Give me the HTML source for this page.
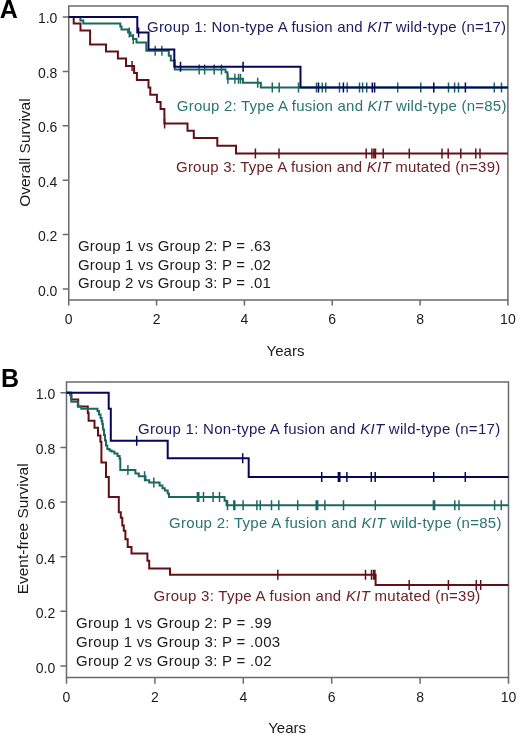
<!DOCTYPE html>
<html><head><meta charset="utf-8"><style>
html,body{margin:0;padding:0;background:#fff;}
svg{display:block;will-change:transform;}
text{font-family:"Liberation Sans",sans-serif;}
</style></head><body>
<svg width="520" height="739" viewBox="0 0 520 739">
<rect width="520" height="739" fill="#fff"/>
<path d="M68.75,6 H507.9 V299.9 H68.75 Z" fill="none" stroke="#6a6a6a" stroke-width="1.5"/>
<path d="M66.5,381.9 H508.5 V677.5 H66.5 Z" fill="none" stroke="#6a6a6a" stroke-width="1.5"/>
<path d="M62.7,17.0 H68.75 M62.7,71.4 H68.75 M62.7,125.8 H68.75 M62.7,180.2 H68.75 M62.7,234.6 H68.75 M62.7,289.0 H68.75" fill="none" stroke="#6a6a6a" stroke-width="1.5" stroke-linejoin="miter" stroke-linecap="butt"/>
<path d="M68.75,299.9 V305.6 M156.57999999999998,299.9 V305.6 M244.41,299.9 V305.6 M332.24,299.9 V305.6 M420.07,299.9 V305.6 M507.9,299.9 V305.6" fill="none" stroke="#6a6a6a" stroke-width="1.5" stroke-linejoin="miter" stroke-linecap="butt"/>
<path d="M60.4,392.8 H66.5 M60.4,447.44 H66.5 M60.4,502.08000000000004 H66.5 M60.4,556.72 H66.5 M60.4,611.36 H66.5 M60.4,666.0 H66.5" fill="none" stroke="#6a6a6a" stroke-width="1.5" stroke-linejoin="miter" stroke-linecap="butt"/>
<path d="M66.5,677.5 V683.7 M154.9,677.5 V683.7 M243.3,677.5 V683.7 M331.70000000000005,677.5 V683.7 M420.1,677.5 V683.7 M508.5,677.5 V683.7" fill="none" stroke="#6a6a6a" stroke-width="1.5" stroke-linejoin="miter" stroke-linecap="butt"/>
<path d="M68.75,17 H73.7 V23.5 H80.5 V30.6 H90.1 V44.4 H106 V51.6 H117.9 V58.6 H126 V66 H134.1 V73.1 H136.9 V80 H148.5 V87.5 H150.3 V94.8 H156.9 V101.9 H160.6 V108.9 H164.4 V123.5 H187.5 V130.8 H193.8 V137.9 H217.3 V145.8 H236 V153.5 H507.9" fill="none" stroke="#621016" stroke-width="2" stroke-linejoin="miter" stroke-linecap="butt"/>
<path d="M132.1,61 V71 M164.6,118.5 V128.5 M255.4,148.5 V158.5 M279,148.5 V158.5 M366.2,148.5 V158.5 M371.9,148.5 V158.5 M373.9,148.5 V158.5 M375.5,148.5 V158.5 M383.2,148.5 V158.5 M409.3,148.5 V158.5 M442,148.5 V158.5 M448.2,148.5 V158.5 M460.8,148.5 V158.5 M475.8,148.5 V158.5 M480,148.5 V158.5" fill="none" stroke="#621016" stroke-width="1.5" stroke-linejoin="miter" stroke-linecap="butt"/>
<path d="M68.75,17 H80.4 V20.4 H83.3 V23.4 H120.3 V26.6 H121.5 V29.4 H128.1 V32.6 H130.5 V35.8 H133 V39 H136.5 V42.4 H146.3 V50.8 H168.8 V55.7 H170.8 V60.5 H174.8 V69.5 H225.6 V72.2 H227.4 V78.8 H243 V82.8 H260.8 V87.6 H507.9" fill="none" stroke="#1b6762" stroke-width="2" stroke-linejoin="miter" stroke-linecap="butt"/>
<path d="M129.3,27.6 V37.6 M133.3,34 V44 M155.2,45.8 V55.8 M161.9,45.8 V55.8 M199.2,64.5 V74.5 M204.6,64.5 V74.5 M214.2,64.5 V74.5 M221.5,64.5 V74.5 M227.9,73.8 V83.8 M234.9,73.8 V83.8 M238.5,73.8 V83.8 M240.5,73.8 V83.8 M257.7,77.8 V87.8 M272.3,82.6 V92.6 M279.2,82.6 V92.6 M298.5,82.6 V92.6 M316.5,82.4 V92.4 M322.3,82.4 V92.4 M325.7,82.4 V92.4 M339.5,82.4 V92.4 M347.2,82.4 V92.4 M359.5,82.4 V92.4 M362.6,82.4 V92.4 M366.7,82.4 V92.4 M397.7,82.4 V92.4 M420.8,82.4 V92.4 M448.5,82.4 V92.4 M454.6,82.4 V92.4 M458.5,82.4 V92.4 M494.3,82.4 V92.4 M501.5,82.4 V92.4" fill="none" stroke="#1b6762" stroke-width="1.5" stroke-linejoin="miter" stroke-linecap="butt"/>
<path d="M68.75,17 H137.3 V32.6 H148.5 V49.4 H174.3 V66.8 H300.5 V87.4 H507.9" fill="none" stroke="#06065c" stroke-width="2" stroke-linejoin="miter" stroke-linecap="butt"/>
<path d="M138.6,27.6 V37.6 M180.5,61.8 V71.8 M243.1,61.8 V71.8 M318.5,82.4 V92.4 M343.4,82.4 V92.4 M372.3,82.4 V92.4 M374.6,82.4 V92.4 M433.8,82.4 V92.4 M465.4,82.4 V92.4" fill="none" stroke="#06065c" stroke-width="1.5" stroke-linejoin="miter" stroke-linecap="butt"/>
<path d="M66.5,392.8 H71.3 V399.5 H78.2 V406.5 H87.8 V413 H88.6 V420.8 H94.5 V427.8 H98 V435.4 H100.4 V441.7 H101.4 V462.5 H106 V476.9 H108.8 V497 H118.8 V512.3 H120.8 V517.7 H122.3 V525.4 H123.8 V530.8 H125.4 V539.2 H127.7 V546.9 H131.5 V553.6 H147.4 V560.8 H149.2 V568.4 H170 V574.7 H375.6 V585 H508.5" fill="none" stroke="#621016" stroke-width="2" stroke-linejoin="miter" stroke-linecap="butt"/>
<path d="M277.8,569.7 V579.7 M365.5,569.7 V579.7 M371.5,569.7 V579.7 M373.6,569.7 V579.7 M374.9,569.7 V579.7 M409.2,580 V590 M448.4,580 V590 M476.3,580 V590 M480.7,580 V590" fill="none" stroke="#621016" stroke-width="1.5" stroke-linejoin="miter" stroke-linecap="butt"/>
<path d="M66.5,392.8 H70.2 V395.3 H71.3 V401.8 H77.8 V406.5 H81.3 V408.7 H97.5 V411 H99 V414.5 H100.5 V418 H101.6 V421 H102.3 V424 H102.9 V429.5 H104 V435 H105 V440.5 H106 V445.5 H107.3 V449 H109.5 V450.5 H111.5 V451.5 H114.4 V453.5 H117.5 V456 H119.6 V458.5 H120.3 V470 H135.4 V473.4 H138.8 V476.3 H145.5 V480.2 H149.2 V482.5 H159.6 V485.5 H162.5 V488.3 H164.8 V490.6 H167.7 V493.4 H169 V497 H224.6 V500.8 H226.6 V505.3 H508.5" fill="none" stroke="#1b6762" stroke-width="2" stroke-linejoin="miter" stroke-linecap="butt"/>
<path d="M127.9,465 V475 M144.6,471.3 V481.3 M153.8,477.5 V487.5 M197.4,492 V502 M198.8,492 V502 M203.5,492 V502 M213.1,492 V502 M219.5,492 V502 M227.5,500.3 V510.3 M233.8,500.3 V510.3 M234.8,500.3 V510.3 M243.1,500.3 V510.3 M256.9,500.3 V510.3 M260.3,500.3 V510.3 M271.5,500.3 V510.3 M278.8,500.3 V510.3 M297.7,500.3 V510.3 M316.2,500.3 V510.3 M317.7,500.3 V510.3 M324.9,500.3 V510.3 M343.5,500.3 V510.3 M375.3,500.3 V510.3 M433.4,500.3 V510.3 M434.6,500.3 V510.3 M454.8,500.3 V510.3 M459,500.3 V510.3 M494.6,500.3 V510.3 M501.3,500.3 V510.3" fill="none" stroke="#1b6762" stroke-width="1.5" stroke-linejoin="miter" stroke-linecap="butt"/>
<path d="M66.5,392.8 H108.7 V408.8 H110.8 V440.8 H167.7 V458.3 H248.7 V477.1 H508.5" fill="none" stroke="#06065c" stroke-width="2" stroke-linejoin="miter" stroke-linecap="butt"/>
<path d="M136.7,435.8 V445.8 M242.7,453.3 V463.3 M321.7,472.1 V482.1 M338.4,472.1 V482.1 M339.8,472.1 V482.1 M346.9,472.1 V482.1 M371.3,472.1 V482.1 M375.2,472.1 V482.1 M433.7,472.1 V482.1 M465.3,472.1 V482.1" fill="none" stroke="#06065c" stroke-width="1.5" stroke-linejoin="miter" stroke-linecap="butt"/>
<text x="-0.3" y="17.6" font-size="25" fill="#000" text-anchor="start" font-weight="bold" >A</text>
<text x="1.1" y="386.6" font-size="25" fill="#000" text-anchor="start" font-weight="bold" >B</text>
<text x="57.4" y="23.4" font-size="14" fill="#1a1a1a" text-anchor="end" font-weight="normal" >1.0</text>
<text x="57.4" y="77.9" font-size="14" fill="#1a1a1a" text-anchor="end" font-weight="normal" >0.8</text>
<text x="57.4" y="132.39999999999998" font-size="14" fill="#1a1a1a" text-anchor="end" font-weight="normal" >0.6</text>
<text x="57.4" y="186.9" font-size="14" fill="#1a1a1a" text-anchor="end" font-weight="normal" >0.4</text>
<text x="57.4" y="241.4" font-size="14" fill="#1a1a1a" text-anchor="end" font-weight="normal" >0.2</text>
<text x="57.4" y="295.9" font-size="14" fill="#1a1a1a" text-anchor="end" font-weight="normal" >0.0</text>
<text x="55.2" y="399.2" font-size="14" fill="#1a1a1a" text-anchor="end" font-weight="normal" >1.0</text>
<text x="55.2" y="453.97999999999996" font-size="14" fill="#1a1a1a" text-anchor="end" font-weight="normal" >0.8</text>
<text x="55.2" y="508.76" font-size="14" fill="#1a1a1a" text-anchor="end" font-weight="normal" >0.6</text>
<text x="55.2" y="563.54" font-size="14" fill="#1a1a1a" text-anchor="end" font-weight="normal" >0.4</text>
<text x="55.2" y="618.3199999999999" font-size="14" fill="#1a1a1a" text-anchor="end" font-weight="normal" >0.2</text>
<text x="55.2" y="673.1" font-size="14" fill="#1a1a1a" text-anchor="end" font-weight="normal" >0.0</text>
<text x="68.75" y="324" font-size="14" fill="#1a1a1a" text-anchor="middle" font-weight="normal" >0</text>
<text x="156.57999999999998" y="324" font-size="14" fill="#1a1a1a" text-anchor="middle" font-weight="normal" >2</text>
<text x="244.41" y="324" font-size="14" fill="#1a1a1a" text-anchor="middle" font-weight="normal" >4</text>
<text x="332.24" y="324" font-size="14" fill="#1a1a1a" text-anchor="middle" font-weight="normal" >6</text>
<text x="420.07" y="324" font-size="14" fill="#1a1a1a" text-anchor="middle" font-weight="normal" >8</text>
<text x="507.9" y="324" font-size="14" fill="#1a1a1a" text-anchor="middle" font-weight="normal" >10</text>
<text x="66.5" y="701.5" font-size="14" fill="#1a1a1a" text-anchor="middle" font-weight="normal" >0</text>
<text x="154.9" y="701.5" font-size="14" fill="#1a1a1a" text-anchor="middle" font-weight="normal" >2</text>
<text x="243.3" y="701.5" font-size="14" fill="#1a1a1a" text-anchor="middle" font-weight="normal" >4</text>
<text x="331.70000000000005" y="701.5" font-size="14" fill="#1a1a1a" text-anchor="middle" font-weight="normal" >6</text>
<text x="420.1" y="701.5" font-size="14" fill="#1a1a1a" text-anchor="middle" font-weight="normal" >8</text>
<text x="508.5" y="701.5" font-size="14" fill="#1a1a1a" text-anchor="middle" font-weight="normal" >10</text>
<text x="285.5" y="355.8" font-size="15" fill="#1a1a1a" text-anchor="middle" font-weight="normal" >Years</text>
<text x="287.1" y="733.3" font-size="15" fill="#1a1a1a" text-anchor="middle" font-weight="normal" >Years</text>
<text x="0" y="0" font-size="15.5" fill="#1a1a1a" text-anchor="middle" font-weight="normal" transform="translate(30.3,152.6) rotate(-90)">Overall Survival</text>
<text x="0" y="0" font-size="15.5" fill="#1a1a1a" text-anchor="middle" font-weight="normal" transform="translate(27.6,528.9) rotate(-90)">Event-free Survival</text>
<text x="147" y="31.7" font-size="15" fill="#1c1c5e" text-anchor="start" font-weight="normal" letter-spacing="0.22">Group 1: Non-type A fusion and <tspan font-style="italic">KIT</tspan> wild-type (n=17)</text>
<text x="176.8" y="110.5" font-size="15" fill="#2a7470" text-anchor="start" font-weight="normal" letter-spacing="0.22">Group 2: Type A fusion and <tspan font-style="italic">KIT</tspan> wild-type (n=85)</text>
<text x="176" y="172.3" font-size="15" fill="#6a2226" text-anchor="start" font-weight="normal" letter-spacing="0.22">Group 3: Type A fusion and <tspan font-style="italic">KIT</tspan> mutated (n=39)</text>
<text x="138" y="433.5" font-size="15" fill="#1c1c5e" text-anchor="start" font-weight="normal" letter-spacing="0.28">Group 1: Non-type A fusion and <tspan font-style="italic">KIT</tspan> wild-type (n=17)</text>
<text x="169.1" y="528.3" font-size="15" fill="#2a7470" text-anchor="start" font-weight="normal" letter-spacing="0.28">Group 2: Type A fusion and <tspan font-style="italic">KIT</tspan> wild-type (n=85)</text>
<text x="153.5" y="601.4" font-size="15" fill="#6a2226" text-anchor="start" font-weight="normal" letter-spacing="0.28">Group 3: Type A fusion and <tspan font-style="italic">KIT</tspan> mutated (n=39)</text>
<text x="78" y="251.1" font-size="15" fill="#1a1a1a" text-anchor="start" font-weight="normal" letter-spacing="0.2">Group 1 vs Group 2: P = .63</text>
<text x="78" y="269.6" font-size="15" fill="#1a1a1a" text-anchor="start" font-weight="normal" letter-spacing="0.2">Group 1 vs Group 3: P = .02</text>
<text x="78" y="288.2" font-size="15" fill="#1a1a1a" text-anchor="start" font-weight="normal" letter-spacing="0.2">Group 2 vs Group 3: P = .01</text>
<text x="76" y="628.1" font-size="15" fill="#1a1a1a" text-anchor="start" font-weight="normal" letter-spacing="0.3">Group 1 vs Group 2: P = .99</text>
<text x="76" y="646.8" font-size="15" fill="#1a1a1a" text-anchor="start" font-weight="normal" letter-spacing="0.3">Group 1 vs Group 3: P = .003</text>
<text x="76" y="665.6" font-size="15" fill="#1a1a1a" text-anchor="start" font-weight="normal" letter-spacing="0.3">Group 2 vs Group 3: P = .02</text>
</svg>
</body></html>
